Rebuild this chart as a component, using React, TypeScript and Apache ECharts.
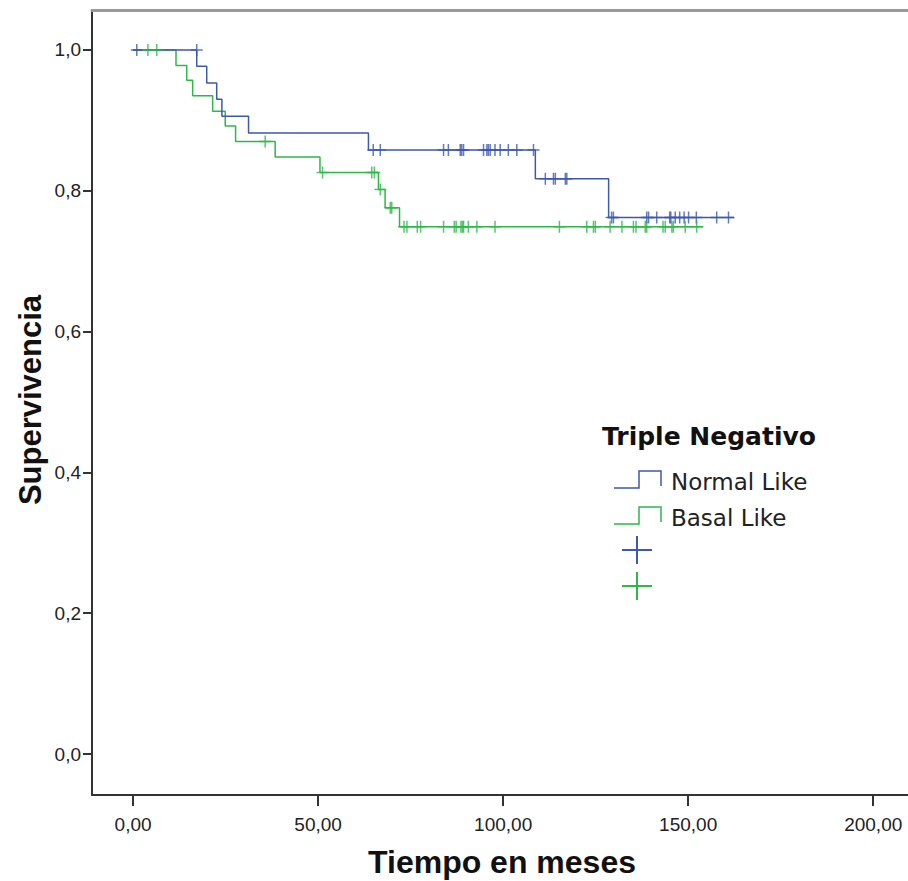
import React, { useEffect, useRef } from "react";
import * as echarts from "echarts";

// Kaplan-Meier steps (time of event, survival after event); last entry = end of follow-up
const normalTimes = [0, 17.2, 19.9, 22.6, 24.0, 31.2, 63.6, 108.7, 128.5, 162.4];
const normalSurv = [1, 0.977, 0.953, 0.930, 0.906, 0.882, 0.858, 0.817, 0.762, 0.762];
const normalCensored = [
  1.0, 17.2, 64.9, 66.8, 83.9, 85.2, 88.4, 88.8, 89.3, 94.7, 95.6, 96.0, 96.5, 97.8,
  99.2, 101.4, 103.7, 108.2, 111.4, 113.6, 114.1, 116.8, 117.2, 129.3, 129.8, 138.8,
  139.3, 141.5, 145.0, 145.3, 146.5, 147.7, 148.9, 150.1, 152.2, 157.7, 160.9,
];

const basalTimes = [0, 11.6, 14.5, 16.1, 21.5, 24.9, 27.7, 38.4, 50.5, 66.3, 68.1, 72.0, 154.1];
const basalSurv = [1, 0.978, 0.957, 0.935, 0.913, 0.892, 0.870, 0.848, 0.826, 0.802, 0.776, 0.749, 0.749];
const basalCensored = [
  4.0, 6.4, 35.7, 51.2, 64.5, 65.2, 66.8, 69.5, 69.9, 73.2, 74.0, 76.8, 77.7, 83.9,
  86.8, 87.3, 88.6, 89.0, 89.3, 90.6, 92.9, 97.8, 115.2, 122.6, 124.4, 124.9, 128.9,
  132.1, 135.2, 135.9, 138.4, 138.8, 143.2, 143.8, 145.6, 146.0, 149.2, 152.3,
];

const xTicks = [0, 50, 100, 150, 200];
const yTicks = [0, 0.2, 0.4, 0.6, 0.8, 1.0];
const groupNames = ["Normal Like", "Basal Like"];
const legendTitle = "Triple Negativo";
const xTitle = "Tiempo en meses";
const yTitle = "Supervivencia";

const BLUE = "#3E58AC";
const GREEN = "#2EB848";

const PLUS =
  "path://M-0.75,-6 H0.75 V-0.75 H6 V0.75 H0.75 V6 H-0.75 V0.75 H-6 V-0.75 H-0.75 Z";

function levelAt(times: number[], surv: number[], t: number) {
  let s = surv[0];
  for (let i = 0; i < times.length; i++) {
    if (times[i] < t) s = surv[i];
  }
  return s;
}

export default function App() {
  const ref = useRef<HTMLDivElement>(null);
  useEffect(() => {
    if (!ref.current) return;
    const chart = echarts.init(ref.current, null, { renderer: "svg" });
    const lineData = (times: number[], surv: number[]) => times.map((t, i) => [t, surv[i]]);
    const censData = (c: number[], times: number[], surv: number[]) =>
      c.map((t) => [t, levelAt(times, surv, t)]);
    const tickFont = "Liberation Sans";
    const legendFont = "'DejaVu Sans', sans-serif";

    const legendItem = (y: number, color: string, label: string) => [
      {
        type: "polyline",
        shape: { points: [[614, y + 6], [639, y + 6], [639, y - 11], [661, y - 11], [661, y + 4]] },
        style: { stroke: color, lineWidth: 1.5, fill: null },
      },
      {
        type: "text",
        x: 671,
        y: y,
        style: { text: label, font: `23px ${legendFont}`, fill: "#222", verticalAlign: "middle" },
      },
    ];
    const plus = (y: number, color: string) => [
      { type: "line", shape: { x1: 622, y1: y, x2: 652, y2: y }, style: { stroke: color, lineWidth: 2 } },
      { type: "line", shape: { x1: 637, y1: y - 14, x2: 637, y2: y + 14 }, style: { stroke: color, lineWidth: 2 } },
    ];

    chart.setOption({
      animation: false,
      backgroundColor: "#ffffff",
      grid: { left: 92, top: 10, width: 816, height: 785, containLabel: false },
      xAxis: [
        {
          type: "value",
          min: -11.1,
          max: 209.4,
          splitLine: { show: false },
          axisLine: { show: true, onZero: false, lineStyle: { color: "#333", width: 2 } },
          axisTick: { show: true, customValues: xTicks, length: 11, lineStyle: { color: "#333", width: 2 } },
          axisLabel: {
            customValues: xTicks,
            margin: 20,
            fontSize: 19,
            fontFamily: tickFont,
            color: "#222",
            formatter: (v: number) => v.toFixed(2).replace(".", ","),
          },
        },
        {
          type: "value",
          position: "top",
          min: -11.1,
          max: 209.4,
          splitLine: { show: false },
          axisLine: { show: true, onZero: false, lineStyle: { color: "#999", width: 3 } },
          axisTick: { show: false },
          axisLabel: { show: false },
        },
      ],
      yAxis: {
        type: "value",
        min: -0.0582,
        max: 1.0568,
        splitLine: { show: false },
        axisLine: { show: true, onZero: false, lineStyle: { color: "#333", width: 2 } },
        axisTick: { show: true, customValues: yTicks, length: 9, lineStyle: { color: "#333", width: 2 } },
        axisLabel: {
          customValues: yTicks,
          margin: 11,
          fontSize: 19,
          fontFamily: tickFont,
          color: "#222",
          formatter: (v: number) => v.toFixed(1).replace(".", ","),
        },
      },
      series: [
        {
          name: groupNames[0],
          type: "line",
          step: "end",
          data: lineData(normalTimes, normalSurv),
          symbol: "none",
          lineStyle: { color: BLUE, width: 1.5 },
          z: 3,
        },
        {
          name: groupNames[1],
          type: "line",
          step: "end",
          data: lineData(basalTimes, basalSurv),
          symbol: "none",
          lineStyle: { color: GREEN, width: 1.5 },
          z: 2,
        },
        {
          name: groupNames[0] + " censurado",
          type: "scatter",
          data: censData(normalCensored, normalTimes, normalSurv),
          symbol: PLUS,
          symbolSize: [12, 12],
          itemStyle: { color: BLUE },
          z: 4,
        },
        {
          name: groupNames[1] + " censurado",
          type: "scatter",
          data: censData(basalCensored, basalTimes, basalSurv),
          symbol: PLUS,
          symbolSize: [12, 12],
          itemStyle: { color: GREEN },
          z: 4,
        },
      ],
      graphic: [
        {
          type: "text",
          x: 502,
          y: 862,
          style: {
            text: xTitle,
            font: `bold 32px 'Liberation Sans', sans-serif`,
            fill: "#111",
            align: "center",
            verticalAlign: "middle",
          },
        },
        {
          type: "text",
          x: 30,
          y: 400,
          rotation: Math.PI / 2,
          style: {
            text: yTitle,
            font: `bold 31px 'Liberation Sans', sans-serif`,
            fill: "#111",
            align: "center",
            verticalAlign: "middle",
          },
        },
        {
          type: "text",
          x: 602,
          y: 436,
          style: {
            text: legendTitle,
            font: `bold 25px ${legendFont}`,
            fill: "#111",
            verticalAlign: "middle",
          },
        },
        ...legendItem(482, BLUE, groupNames[0]),
        ...legendItem(518, GREEN, groupNames[1]),
        ...plus(550, BLUE),
        ...plus(586, GREEN),
      ],
    });
    return () => chart.dispose();
  }, []);
  return (
    <div
      ref={ref}
      style={{ position: "absolute", left: 0, top: 0, width: 908, height: 881 }}
    />
  );
}
